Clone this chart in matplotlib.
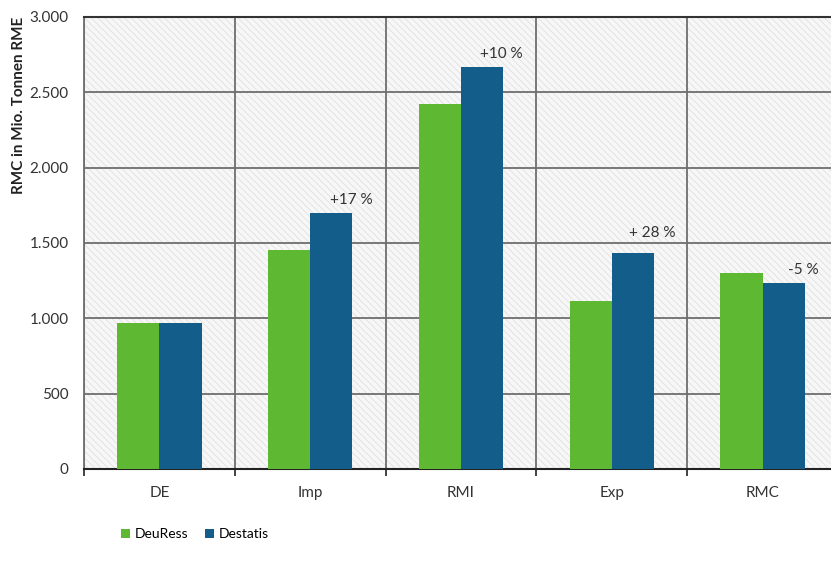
import matplotlib
matplotlib.use("Agg")
import matplotlib.pyplot as plt
from matplotlib.patches import Rectangle
from matplotlib.ticker import FuncFormatter, FixedLocator
import numpy as np

plt.rcParams['font.family'] = ['Lato', 'DejaVu Sans']
plt.rcParams['hatch.color'] = '#e0e0e0'
plt.rcParams['hatch.linewidth'] = 0.6

categories = ["DE", "Imp", "RMI", "Exp", "RMC"]
deuress = [970, 1453, 2422, 1115, 1303]
destatis = [970, 1699, 2670, 1433, 1236]
change_labels = ["", "+17 %", "+10 %", "+ 28 %", "-5 %"]
series_names = ["DeuRess", "Destatis"]
colors = ["#5eb831", "#135d8b"]

fig = plt.figure(figsize=(8.31, 5.67), dpi=100)
ax = fig.add_axes([84/831, 1 - 469/567, 754/831, 452/567])

# hatched plot background
ax.set_facecolor('#f7f7f7')
ax.add_patch(Rectangle((0, 0), 1, 1, transform=ax.transAxes, facecolor='none',
                       edgecolor='#e0e0e0', hatch='\\\\\\\\\\', linewidth=0, zorder=0))

x = np.arange(len(categories))
w = 0.28
ax.bar(x - w/2, deuress, w, color=colors[0], label=series_names[0], zorder=3)
ax.bar(x + w/2, destatis, w, color=colors[1], label=series_names[1], zorder=3)

label_lift = [0, 40, 40, 90, 40]
for xi, v, lab, lift in zip(x, destatis, change_labels, label_lift):
    if lab:
        ax.text(xi + w/2 + 0.13, v + lift, lab, ha='center', va='bottom',
                fontsize=11, color='#333333', zorder=4)

ax.set_xlim(-0.5, len(categories) - 0.5)
ax.set_ylim(0, 3000)
ax.set_yticks(np.arange(0, 3001, 500))
ax.yaxis.set_major_formatter(FuncFormatter(lambda v, p: f"{int(v):,}".replace(",", ".")))
ax.set_xticks(x)
ax.set_xticklabels(categories)
ax.xaxis.set_minor_locator(FixedLocator(np.arange(-0.5, len(categories), 1.0)))

ax.grid(axis='y', which='major', color='#6e6e6e', linewidth=1.3, zorder=1)
ax.grid(axis='x', which='minor', color='#6e6e6e', linewidth=1.3, zorder=1)
ax.set_axisbelow(True)

ax.tick_params(axis='x', which='major', length=0, pad=12, labelsize=11, colors='#333333')
ax.tick_params(axis='x', which='minor', length=5, width=1.2, color='#222222')
ax.tick_params(axis='y', length=0, pad=11, labelsize=11, colors='#333333')

ax.spines['right'].set_visible(False)
ax.spines['top'].set_color('#333333')
ax.spines['top'].set_linewidth(1.5)
ax.spines['left'].set_color('#6e6e6e')
ax.spines['left'].set_linewidth(1.3)
ax.spines['bottom'].set_color('#222222')
ax.spines['bottom'].set_linewidth(1.5)

ax.set_ylabel("RMC in Mio. Tonnen RME", fontsize=11, fontweight='bold',
              color='#222222', loc='top')
ax.yaxis.set_label_coords(-0.077, 1.0)

fig.legend(loc='lower left', bbox_to_anchor=(0.13, 0.025), ncol=2, frameon=False,
           fontsize=10, handlelength=0.7, handleheight=0.7, handletextpad=0.3,
           columnspacing=1.2)

fig.savefig("out.png", dpi=100)
